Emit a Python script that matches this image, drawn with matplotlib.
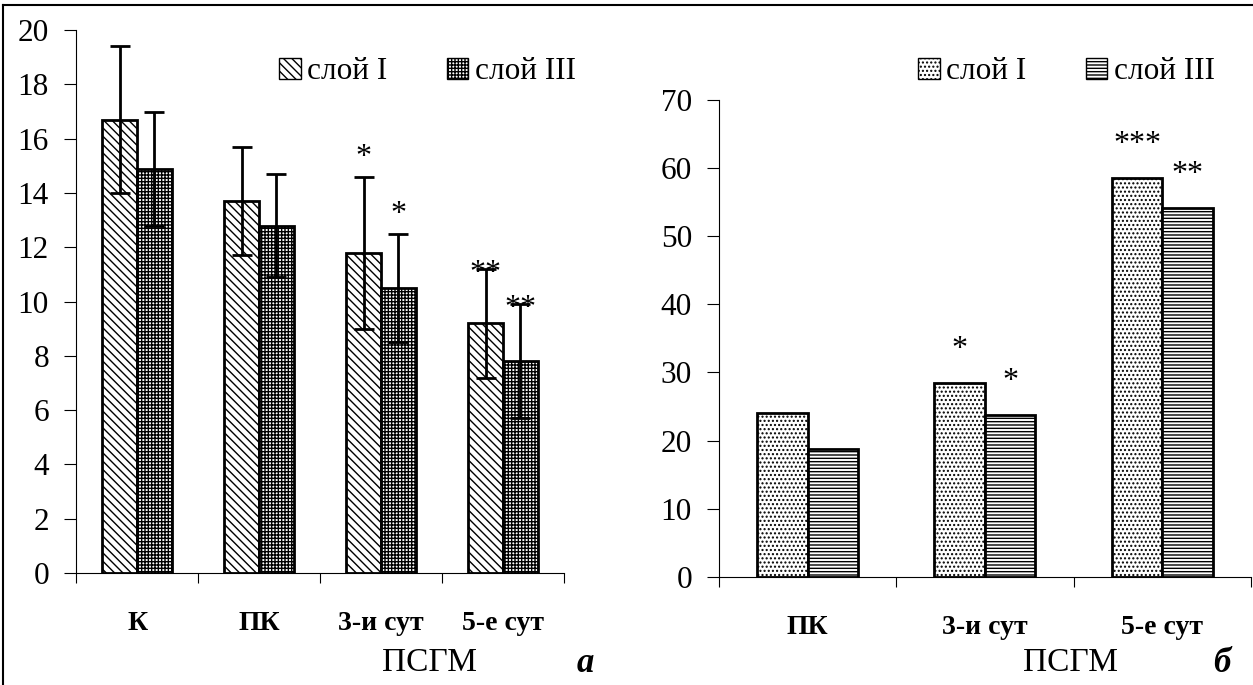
import matplotlib.pyplot as plt
import numpy as np
from matplotlib.patches import Patch
from matplotlib.lines import Line2D

plt.rcParams['font.family'] = ['Liberation Serif', 'DejaVu Serif']
plt.rcParams['hatch.linewidth'] = 1.0

# панель а
kat_a = ['К', 'ПК', '3-и сут', '5-е сут']
sloj1_a = [16.7, 13.7, 11.8, 9.2]
sloj3_a = [14.9, 12.8, 10.5, 7.8]
err1_a = [2.7, 2.0, 2.8, 2.0]
err3_a = [2.1, 1.9, 2.0, 2.1]
zv1_a = ['', '', '*', '**']
zv3_a = ['', '', '*', '**']

# панель б
kat_b = ['ПК', '3-и сут', '5-е сут']
sloj1_b = [24.0, 28.5, 58.6]
sloj3_b = [18.8, 23.8, 54.2]
zv1_b = ['', '*', '***']
zv3_b = ['', '*', '**']

fig = plt.figure(figsize=(12.53, 6.85), dpi=100)
ax1 = fig.add_axes([0.0607, 0.1635, 0.3895, 0.7925])
ax2 = fig.add_axes([0.5738, 0.158, 0.4245, 0.696])

w = 0.285


def oformit(ax, n, ymax, step):
    ax.set_xlim(0, n)
    ax.set_ylim(0, ymax)
    ax.set_yticks(np.arange(0, ymax + 1, step))
    ax.set_xticks(np.arange(0, n + 1))
    ax.set_xticklabels([])
    ax.spines['top'].set_visible(False)
    ax.spines['right'].set_visible(False)
    for s in ['left', 'bottom']:
        ax.spines[s].set_linewidth(0.8)
    ax.tick_params(axis='y', direction='out', length=8.5, width=0.8, labelsize=22.5, pad=11)
    ax.tick_params(axis='x', direction='out', length=7, width=0.8)


x_a = np.arange(len(kat_a)) + 0.5
ax1.bar(x_a - w / 2, sloj1_a, w, color='white', edgecolor='black', hatch='\\\\\\\\', linewidth=2)
ax1.bar(x_a + w / 2, sloj3_a, w, color='white', edgecolor='black', hatch='+++++', linewidth=2)
ax1.errorbar(x_a - w / 2, sloj1_a, yerr=err1_a, fmt='none', ecolor='black', capsize=7, elinewidth=2, capthick=2)
ax1.errorbar(x_a + w / 2, sloj3_a, yerr=err3_a, fmt='none', ecolor='black', capsize=7, elinewidth=2, capthick=2)
oformit(ax1, len(kat_a), 20, 2)
# сдвиг звёздочек над усами
sdvig_a = [0, 0, 1.25, 0.38]
for i, k in enumerate(kat_a):
    ax1.text(x_a[i], -1.85, k, ha='center', va='center', fontsize=20, fontweight='bold')
    if zv1_a[i]:
        ax1.text(x_a[i] - w / 2, sloj1_a[i] + err1_a[i] + sdvig_a[i], zv1_a[i],
                 ha='center', va='top', fontsize=23)
    if zv3_a[i]:
        ax1.text(x_a[i] + w / 2, sloj3_a[i] + err3_a[i] + sdvig_a[i], zv3_a[i],
                 ha='center', va='top', fontsize=23)

x_b = np.arange(len(kat_b)) + 0.5
ax2.bar(x_b - w / 2, sloj1_b, w, color='white', edgecolor='black', hatch='....', linewidth=2)
ax2.bar(x_b + w / 2, sloj3_b, w, color='white', edgecolor='black', hatch='-----', linewidth=2)
oformit(ax2, len(kat_b), 70, 10)
for i, k in enumerate(kat_b):
    ax2.text(x_b[i], -7.4, k, ha='center', va='center', fontsize=20, fontweight='bold')
    if zv1_b[i]:
        ax2.text(x_b[i] - w / 2, sloj1_b[i] + 7.0, zv1_b[i], ha='center', va='top', fontsize=23)
    if zv3_b[i]:
        ax2.text(x_b[i] + w / 2, sloj3_b[i] + 7.0, zv3_b[i], ha='center', va='top', fontsize=23)

leg_a = [Patch(facecolor='white', edgecolor='black', hatch='\\\\\\\\', label='слой I'),
         Patch(facecolor='white', edgecolor='black', hatch='+++++', label='слой III')]
fig.legend(handles=leg_a, loc='center', bbox_to_anchor=(0.341, 0.895), ncol=2, frameon=False,
           fontsize=22.5, handlelength=0.7, handleheight=0.7, handletextpad=0.2, columnspacing=1.9)
leg_b = [Patch(facecolor='white', edgecolor='black', hatch='....', label='слой I'),
         Patch(facecolor='white', edgecolor='black', hatch='-----', label='слой III')]
fig.legend(handles=leg_b, loc='center', bbox_to_anchor=(0.851, 0.895), ncol=2, frameon=False,
           fontsize=22.5, handlelength=0.7, handleheight=0.7, handletextpad=0.2, columnspacing=1.9)

fig.text(0.343, 0.032, 'ПСГМ', fontsize=24, ha='center', va='center')
fig.text(0.467, 0.032, 'а', fontsize=25, fontweight='bold', style='italic', ha='center', va='center')
fig.text(0.854, 0.032, 'ПСГМ', fontsize=24, ha='center', va='center')
fig.text(0.975, 0.032, 'б', fontsize=25, fontweight='bold', style='italic', ha='center', va='center')

# рамка
fig.add_artist(Line2D([0.002, 0.002], [0, 0.993], color='black', lw=1.5, transform=fig.transFigure))
fig.add_artist(Line2D([0.002, 1], [0.993, 0.993], color='black', lw=1.5, transform=fig.transFigure))

fig.savefig('out.png', dpi=100)
